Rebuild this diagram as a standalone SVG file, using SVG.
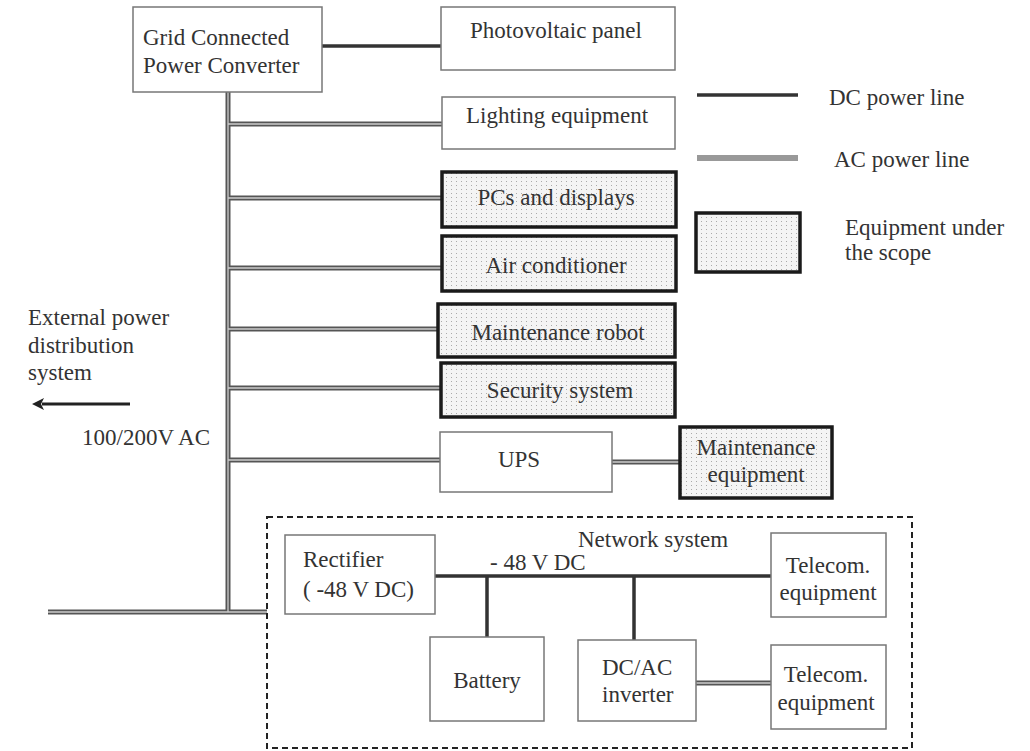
<svg xmlns="http://www.w3.org/2000/svg" width="1030" height="751" viewBox="0 0 1030 751">
<style>
text{font-family:"Liberation Serif","Times New Roman","DejaVu Serif",serif;font-size:23px;fill:#333}
.c{text-anchor:middle}
.box{fill:#fff;stroke:#777;stroke-width:1.5}
.scope{fill:url(#dots);stroke:#1a1a1a;stroke-width:3.5}
.dc{stroke:#333;stroke-width:3.5;fill:none}
.aco{stroke:#555;stroke-width:5;fill:none}
.aci{stroke:#ccc;stroke-width:1.3;fill:none}
.dash{fill:none;stroke:#222;stroke-width:2;stroke-dasharray:6 4}
</style>
<defs>
<pattern id="dots" width="5" height="4" patternUnits="userSpaceOnUse">
<rect width="5" height="4" fill="#f4f4f4"/>
<rect x="1" y="1" width="1" height="1" fill="#aaa"/>
</pattern>
<marker id="arr" markerWidth="12" markerHeight="12" refX="2" refY="6" orient="auto" markerUnits="userSpaceOnUse">
<path d="M0,0 L12,6 L0,12 L3,6 Z" fill="#222"/>
</marker>
</defs>
<rect width="1030" height="751" fill="#fff"/>

<g id="connectors">
<line class="dc" x1="322" y1="46" x2="441" y2="46"/>
<g id="ac-lines">
<path class="aco" d="M228,92 V612 M48,612 H267 M228,124 H442 M228,198 H442 M228,268 H442 M228,329 H438 M228,388 H441 M228,460 H440 M612,462 H680 M696,683 H771"/>
<path class="aci" d="M228,92 V612 M48,612 H267 M228,124 H442 M228,198 H442 M228,268 H442 M228,329 H438 M228,388 H441 M228,460 H440 M612,462 H680 M696,683 H771"/>
</g>
<path class="dc" d="M435,576 H771 M487,576 V637 M634,576 V640"/>
<line x1="130" y1="404" x2="42" y2="404" stroke="#222" stroke-width="3" marker-end="url(#arr)"/>
</g>

<g id="grid-converter"><rect class="box" x="133" y="7" width="189" height="85"/><text x="143" y="45">Grid Connected</text><text x="143" y="73">Power Converter</text></g>
<g id="pv-panel"><rect class="box" x="441" y="7" width="234" height="63"/><text class="c" x="556" y="38">Photovoltaic panel</text></g>
<g id="lighting"><rect class="box" x="442" y="97" width="233" height="52"/><text class="c" x="557" y="123">Lighting equipment</text></g>
<g id="pcs"><rect class="scope" x="442" y="172" width="234" height="55"/><text class="c" x="556" y="205">PCs and displays</text></g>
<g id="aircon"><rect class="scope" x="442" y="236" width="234" height="55"/><text class="c" x="556" y="273">Air conditioner</text></g>
<g id="robot"><rect class="scope" x="438" y="304" width="237" height="53"/><text class="c" x="558" y="340">Maintenance robot</text></g>
<g id="security"><rect class="scope" x="441" y="363" width="234" height="54"/><text class="c" x="560" y="398">Security system</text></g>
<g id="ups"><rect class="box" x="440" y="432" width="172" height="60"/><text class="c" x="519" y="467">UPS</text></g>
<g id="maint-equip"><rect class="scope" x="680" y="427" width="152" height="71"/><text class="c" x="756" y="455">Maintenance</text><text class="c" x="756" y="482">equipment</text></g>

<g id="legend">
<line class="dc" x1="697" y1="95" x2="798" y2="95"/>
<text x="829" y="105">DC power line</text>
<line x1="697" y1="158" x2="798" y2="158" stroke="#999" stroke-width="6"/>
<text x="834" y="167">AC power line</text>
<rect class="scope" x="696" y="213" width="104" height="59"/>
<text x="845" y="235">Equipment under</text>
<text x="845" y="260">the scope</text>
</g>

<g id="external">
<text x="28" y="325">External power</text>
<text x="28" y="353">distribution</text>
<text x="28" y="380">system</text>
<text x="82" y="445">100/200V AC</text>
</g>

<g id="network-system">
<rect class="dash" x="267" y="517" width="645" height="231"/>
<text x="578" y="547">Network system</text>
<text x="490" y="570">- 48 V DC</text>
</g>
<g id="rectifier"><rect class="box" x="285" y="535" width="150" height="79"/><text x="303" y="567">Rectifier</text><text x="303" y="597">( -48 V DC)</text></g>
<g id="telecom1"><rect class="box" x="771" y="533" width="115" height="84"/><text class="c" x="828" y="573">Telecom.</text><text class="c" x="828" y="600">equipment</text></g>
<g id="battery"><rect class="box" x="430" y="637" width="114" height="84"/><text class="c" x="487" y="688">Battery</text></g>
<g id="inverter"><rect class="box" x="578" y="640" width="118" height="81"/><text x="602" y="675">DC/AC</text><text x="602" y="702">inverter</text></g>
<g id="telecom2"><rect class="box" x="771" y="645" width="115" height="84"/><text class="c" x="826" y="682">Telecom.</text><text class="c" x="826" y="710">equipment</text></g>
</svg>
